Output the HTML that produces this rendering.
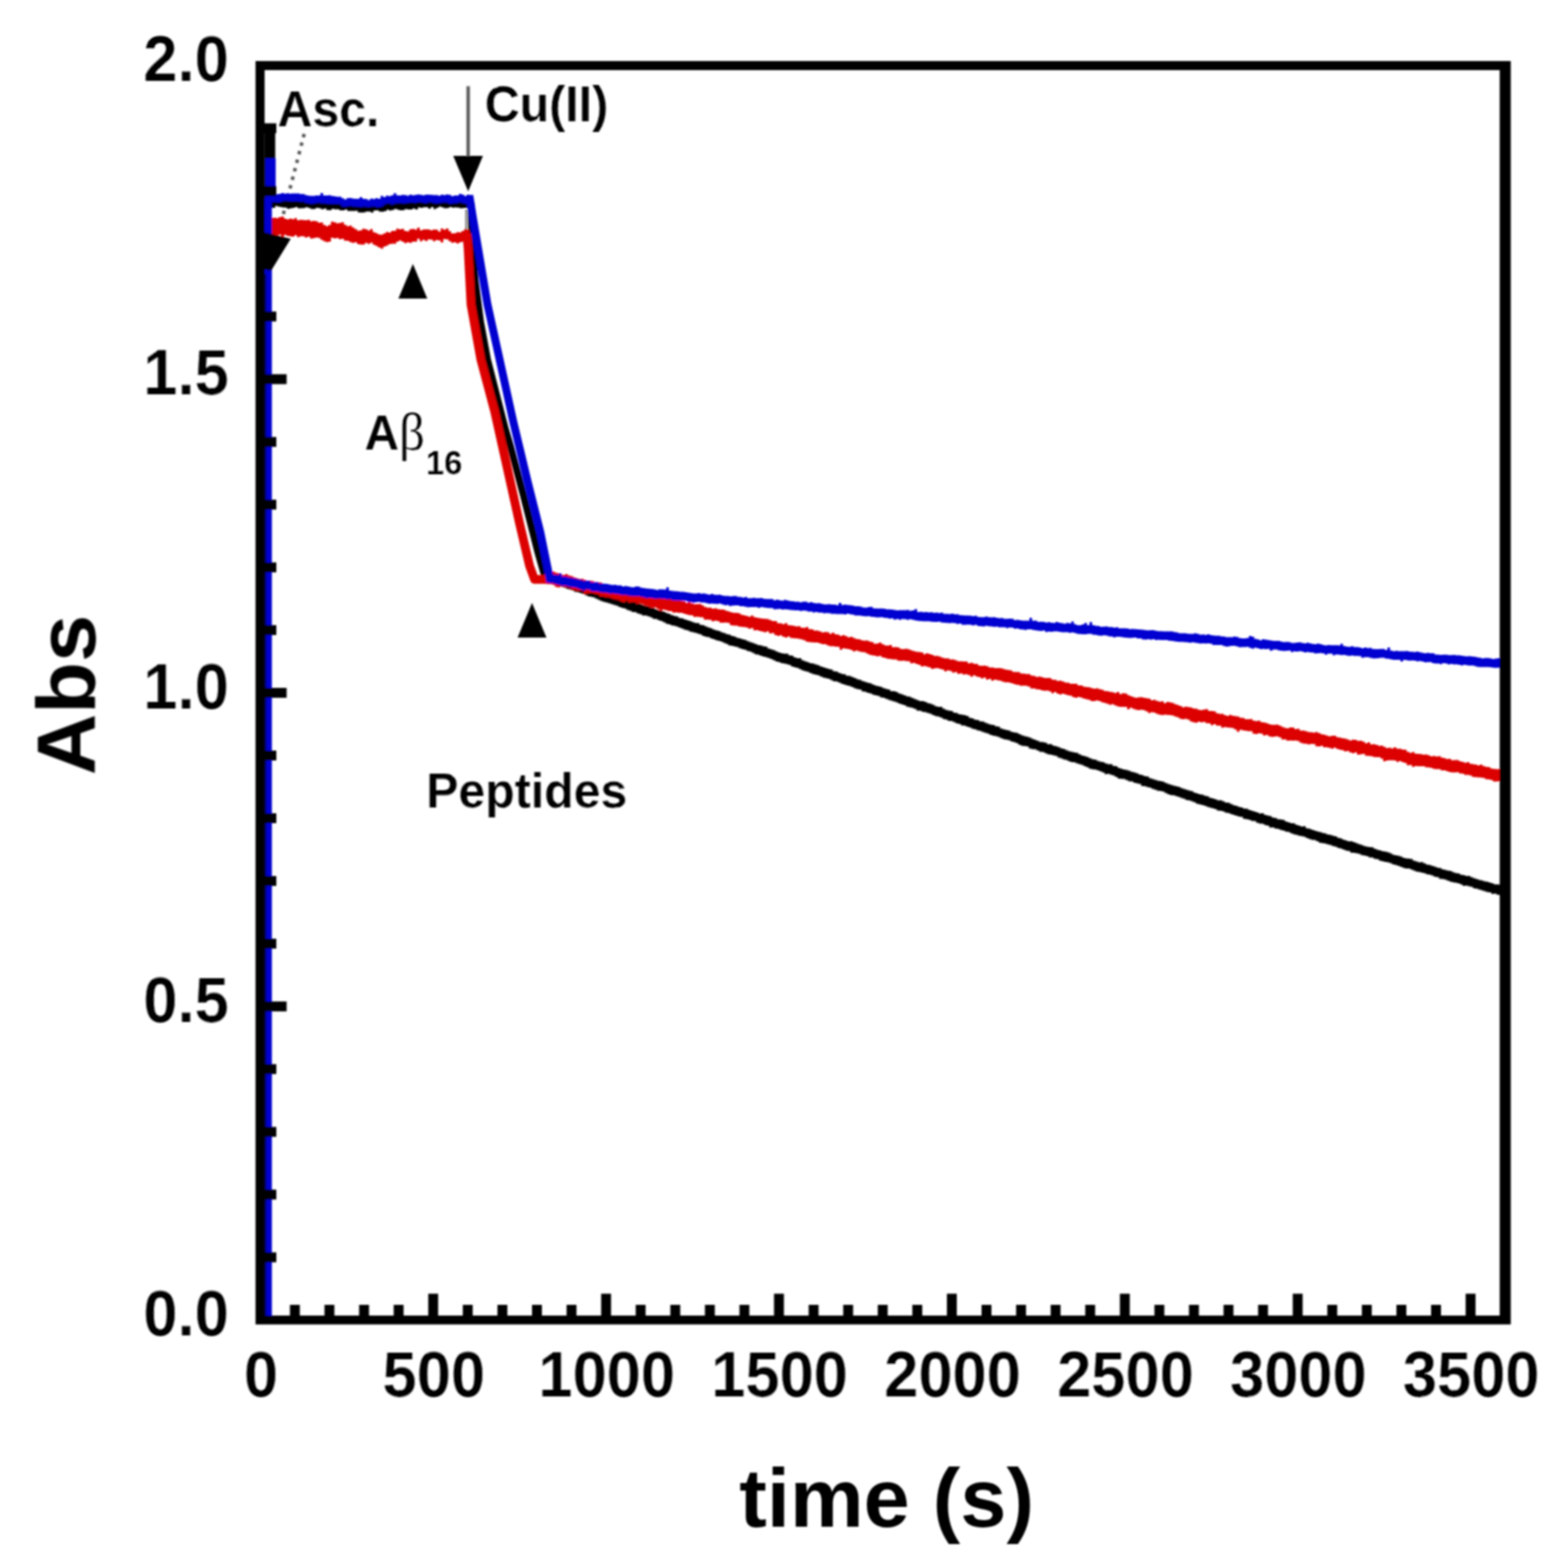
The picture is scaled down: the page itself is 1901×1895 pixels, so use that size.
<!DOCTYPE html>
<html lang="en">
<head>
<meta charset="utf-8">
<title>Abs vs time (s)</title>
<style>
  html, body { margin: 0; padding: 0; background: #ffffff; }
  body { width: 1901px; height: 1895px; overflow: hidden; }
  svg { display: block; }
  text { font-family: "Liberation Sans", sans-serif; font-weight: bold; fill: #000;
         stroke: #ffffff; stroke-width: 0; stroke-linejoin: round; paint-order: fill stroke; }
  .tick { font-size: 78px; stroke-width: 0.15px; }
  .axis { font-size: 101px; }
  .ann { font-size: 60px; stroke-width: 0.12px; }
  .beta { font-family: "Liberation Serif", "DejaVu Serif", serif; font-weight: normal; }
  .c { fill: none; stroke-linejoin: round; stroke-linecap: butt; }
  .k { stroke: #000000; } .kf { fill: #000000; }
  .r { stroke: #dc0000; } .rf { fill: #dc0000; }
  .b { stroke: #0000d0; } .bf { fill: #0000d0; }
</style>
</head>
<body>
<svg width="1901" height="1895" viewBox="0 0 1901 1895">
  <defs>
    <filter id="soft" x="0" y="0" width="1901" height="1895" filterUnits="userSpaceOnUse">
      <feGaussianBlur stdDeviation="1.2"/>
    </filter>
  </defs>
  <rect x="0" y="0" width="1901" height="1895" fill="#ffffff"/>
  <g id="chart" filter="url(#soft)">

  <!-- annotation leader lines (under curves) -->
  <line x1="368.8" y1="162.4" x2="333.4" y2="298.4" stroke="#555555" stroke-width="4.2" stroke-dasharray="4.2 6.48"/>
  <line x1="567.6" y1="104.5" x2="567.6" y2="195" stroke="#5c5c5c" stroke-width="4.2"/>
  <line x1="565.2" y1="254" x2="565.2" y2="282" stroke="#8a8a8a" stroke-width="2.6"/>

  <!-- black trace -->
  <g id="trace-black">
    <path class="c k" d="M323.0,1600.0 L324.0,250.0" stroke-width="9"/>
    <path class="c k" d="M327.2,252.0 L327.2,158.0" stroke-width="13"/>
    <path class="kf" d="M326.0,241.8V241.8H329.2V240.0H332.3V240.0H335.5V239.4H338.7V241.1H341.8V241.3H345.0V241.8H348.2V242.0H351.3V241.5H354.5V241.7H357.7V241.7H360.8V242.6H364.0V242.2H367.2V241.8H370.4V242.0H373.5V242.7H376.7V243.4H379.9V242.8H383.0V242.1H386.2V243.2H389.4V243.1H392.5V243.7H395.7V243.2H398.9V244.1H402.0V243.7H405.2V244.7H408.4V244.7H411.5V243.1H414.7V243.0H417.9V245.3H421.0V243.9H424.2V244.1H427.4V244.4H430.5V245.9H433.7V246.9H436.9V247.0H440.0V247.9H443.2V247.5H446.4V246.6H449.6V247.4H452.7V244.8H455.9V245.8H459.1V246.0H462.2V244.8H465.4V244.7H468.6V245.0H471.7V244.9H474.9V244.3H478.1V242.2H481.2V244.0H484.4V244.5H487.6V244.8H490.7V244.0H493.9V243.3H497.1V243.6H500.2V242.6H503.4V242.6H506.6V242.6H509.7V242.5H512.9V242.0H516.1V241.0H519.2V241.6H522.4V241.4H525.6V242.7H528.8V241.4H531.9V240.8H535.1V242.0H538.3V242.0H541.4V240.9H544.6V241.6H547.8V241.5H550.9V241.8H554.1V241.9H557.3V241.9H560.4V241.9H563.6V241.9H566.8V241.5H569.9V241.1H570.0V250.8V250.8H569.9V251.6H566.8V251.9H563.6V252.3H560.4V252.5H557.3V251.8H554.1V251.5H550.9V251.8H547.8V251.1H544.6V252.3H541.4V252.4H538.3V251.5H535.1V250.5H531.9V252.0H528.8V253.5H525.6V250.9H522.4V252.9H519.2V251.3H516.1V251.3H512.9V252.0H509.7V251.5H506.6V254.0H503.4V252.8H500.2V254.0H497.1V254.1H493.9V253.6H490.7V254.8H487.6V255.0H484.4V254.3H481.2V253.3H478.1V254.4H474.9V255.2H471.7V254.2H468.6V255.9H465.4V256.7H462.2V256.4H459.1V255.1H455.9V255.2H452.7V257.7H449.6V256.4H446.4V256.4H443.2V257.5H440.0V257.8H436.9V257.5H433.7V255.5H430.5V255.7H427.4V255.7H424.2V255.8H421.0V254.1H417.9V255.0H414.7V254.9H411.5V253.7H408.4V253.7H405.2V253.3H402.0V254.8H398.9V254.7H395.7V252.7H392.5V253.7H389.4V252.6H386.2V252.1H383.0V253.3H379.9V253.5H376.7V252.2H373.5V251.2H370.4V252.3H367.2V252.5H364.0V252.5H360.8V251.0H357.7V252.1H354.5V252.5H351.3V253.2H348.2V251.7H345.0V251.4H341.8V251.0H338.7V250.2H335.5V249.6H332.3V251.4H329.2V252.3H326.0Z"/>
    <path class="c k" d="M571.0,246.0 L572.0,290.0 L576.0,340.0 L582.5,390.0 L591.0,436.0 L612.5,520.0 L618.5,540.0 L634.5,600.0 L652.0,669.0 L662.0,704.0" stroke-width="8.5"/>
    <path class="kf" d="M658.0,695.1V695.1H661.2V695.3H664.3V695.1H667.5V695.4H670.7V696.9H673.8V697.8H677.0V698.5H680.2V699.4H683.3V700.7H686.5V701.1H689.7V703.0H692.8V703.8H696.0V705.0H699.2V706.0H702.4V707.0H705.5V708.1H708.7V709.5H711.9V710.4H715.0V711.8H718.2V712.5H721.4V713.9H724.5V714.5H727.7V715.8H730.9V717.4H734.0V718.3H737.2V719.6H740.4V720.4H743.5V721.0H746.7V721.6H749.9V723.4H753.0V724.4H756.2V724.8H759.4V726.7H762.5V728.2H765.7V729.3H768.9V729.8H772.0V731.1H775.2V732.3H778.4V733.6H781.6V734.6H784.7V735.0H787.9V736.5H791.1V737.2H794.2V739.0H797.4V740.0H800.6V740.5H803.7V741.7H806.9V743.2H810.1V744.2H813.2V745.8H816.4V746.8H819.6V747.6H822.7V749.3H825.9V749.7H829.1V750.9H832.2V752.0H835.4V753.0H838.6V754.3H841.7V755.3H844.9V755.5H848.1V757.5H851.2V758.1H854.4V759.4H857.6V760.8H860.8V761.7H863.9V763.2H867.1V764.2H870.3V765.1H873.4V766.4H876.6V767.5H879.8V768.7H882.9V769.5H886.1V771.1H889.3V771.8H892.4V773.2H895.6V773.9H898.8V775.1H901.9V775.8H905.1V777.3H908.3V778.4H911.4V779.5H914.6V780.8H917.8V782.0H920.9V782.4H924.1V783.5H927.3V783.9H930.4V786.2H933.6V787.3H936.8V788.3H940.0V789.7H943.1V791.0H946.3V792.0H949.5V792.6H952.6V792.5H955.8V794.5H959.0V795.0H962.1V797.0H965.3V798.1H968.5V798.0H971.6V800.5H974.8V801.8H978.0V802.7H981.1V804.0H984.3V804.5H987.5V805.6H990.6V806.5H993.8V808.1H997.0V809.1H1000.1V809.9H1003.3V811.1H1006.5V811.8H1009.6V813.7H1012.8V814.2H1016.0V815.7H1019.2V816.9H1022.3V817.6H1025.5V819.2H1028.7V819.5H1031.8V820.7H1035.0V822.1H1038.2V823.6H1041.3V824.3H1044.5V825.7H1047.7V826.8H1050.8V827.7H1054.0V828.5H1057.2V829.9H1060.3V831.2H1063.5V832.0H1066.7V832.8H1069.8V834.3H1073.0V835.2H1076.2V836.0H1079.3V837.9H1082.5V838.0H1085.7V838.9H1088.8V840.8H1092.0V841.7H1095.2V843.1H1098.4V844.3H1101.5V844.8H1104.7V846.3H1107.9V847.5H1111.0V848.8H1114.2V850.1H1117.4V850.1H1120.5V851.0H1123.7V852.5H1126.9V853.3H1130.0V854.6H1133.2V856.2H1136.4V857.1H1139.5V857.0H1142.7V859.2H1145.9V860.7H1149.0V861.4H1152.2V862.0H1155.4V863.9H1158.5V864.5H1161.7V866.0H1164.9V866.6H1168.0V867.1H1171.2V868.1H1174.4V870.2H1177.6V871.1H1180.7V872.5H1183.9V873.1H1187.1V874.5H1190.2V874.8H1193.4V876.2H1196.6V877.4H1199.7V878.6H1202.9V878.9H1206.1V880.5H1209.2V881.1H1212.4V883.2H1215.6V884.3H1218.7V885.0H1221.9V885.7H1225.1V887.2H1228.2V888.0H1231.4V888.6H1234.6V890.1H1237.7V891.6H1240.9V892.4H1244.1V893.2H1247.2V894.2H1250.4V895.7H1253.6V897.0H1256.8V898.2H1259.9V899.4H1263.1V899.8H1266.3V900.6H1269.4V902.2H1272.6V902.2H1275.8V904.1H1278.9V904.7H1282.1V905.7H1285.3V907.3H1288.4V908.0H1291.6V909.5H1294.8V910.8H1297.9V911.4H1301.1V912.2H1304.3V912.8H1307.4V914.5H1310.6V915.9H1313.8V916.8H1316.9V917.8H1320.1V919.3H1323.3V920.5H1326.4V921.0H1329.6V922.4H1332.8V923.5H1336.0V924.0H1339.1V925.6H1342.3V926.4H1345.5V926.4H1348.6V928.4H1351.8V928.9H1355.0V931.1H1358.1V932.1H1361.3V932.9H1364.5V933.4H1367.6V934.6H1370.8V935.8H1374.0V936.6H1377.1V937.6H1380.3V938.9H1383.5V939.8H1386.6V940.9H1389.8V941.6H1393.0V943.4H1396.1V944.4H1399.3V945.6H1402.5V946.5H1405.6V947.0H1408.8V947.7H1412.0V949.3H1415.2V950.6H1418.3V951.5H1421.5V952.5H1424.7V953.3H1427.8V954.1H1431.0V955.5H1434.2V956.6H1437.3V957.4H1440.5V958.5H1443.7V959.3H1446.8V960.9H1450.0V962.1H1453.2V963.1H1456.3V963.6H1459.5V964.7H1462.7V965.5H1465.8V967.2H1469.0V968.0H1472.2V969.1H1475.3V970.2H1478.5V970.3H1481.7V971.6H1484.8V972.9H1488.0V973.3H1491.2V974.8H1494.4V976.3H1497.5V977.1H1500.7V978.3H1503.9V979.0H1507.0V980.2H1510.2V980.6H1513.4V982.1H1516.5V983.1H1519.7V984.0H1522.9V985.1H1526.0V986.3H1529.2V985.9H1532.4V987.9H1535.5V988.7H1538.7V989.4H1541.9V991.3H1545.0V991.8H1548.2V993.3H1551.4V993.6H1554.5V994.1H1557.7V996.0H1560.9V997.0H1564.0V998.0H1567.2V998.2H1570.4V999.9H1573.6V1001.1H1576.7V1002.0H1579.9V1001.7H1583.1V1004.2H1586.2V1004.8H1589.4V1005.9H1592.6V1007.0H1595.7V1007.9H1598.9V1008.7H1602.1V1009.8H1605.2V1010.4H1608.4V1011.7H1611.6V1012.2H1614.7V1013.2H1617.9V1013.9H1621.1V1015.7H1624.2V1016.5H1627.4V1018.1H1630.6V1018.9H1633.7V1020.1H1636.9V1020.0H1640.1V1021.1H1643.2V1022.2H1646.4V1023.4H1649.6V1024.6H1652.8V1025.7H1655.9V1026.4H1659.1V1027.0H1662.3V1027.2H1665.4V1028.9H1668.6V1030.2H1671.8V1031.0H1674.9V1032.1H1678.1V1032.5H1681.3V1033.2H1684.4V1034.6H1687.6V1036.2H1690.8V1037.0H1693.9V1037.6H1697.1V1038.4H1700.3V1040.0H1703.4V1040.8H1706.6V1041.0H1709.8V1041.6H1712.9V1043.4H1716.1V1044.6H1719.3V1045.6H1722.4V1045.3H1725.6V1046.7H1728.8V1048.2H1732.0V1048.8H1735.1V1049.8H1738.3V1050.7H1741.5V1052.0H1744.6V1052.6H1747.8V1053.9H1751.0V1054.7H1754.1V1055.5H1757.3V1055.9H1760.5V1057.4H1763.6V1058.5H1766.8V1059.0H1770.0V1060.4H1773.1V1060.9H1776.3V1061.9H1779.5V1062.0H1782.6V1063.4H1785.8V1064.8H1789.0V1065.7H1792.1V1066.8H1795.3V1067.4H1798.5V1068.4H1801.6V1068.9H1804.8V1070.0H1808.0V1071.1H1811.2V1072.2H1814.3V1072.3H1817.5V1072.7H1819.5V1085.2V1085.2H1817.5V1084.7H1814.3V1083.6H1811.2V1083.7H1808.0V1082.0H1804.8V1081.5H1801.6V1080.6H1798.5V1079.4H1795.3V1078.5H1792.1V1077.6H1789.0V1077.1H1785.8V1075.2H1782.6V1074.6H1779.5V1073.8H1776.3V1074.1H1773.1V1072.3H1770.0V1071.1H1766.8V1070.3H1763.6V1069.7H1760.5V1068.9H1757.3V1067.8H1754.1V1066.6H1751.0V1065.8H1747.8V1065.6H1744.6V1063.6H1741.5V1062.9H1738.3V1061.6H1735.1V1060.6H1732.0V1060.1H1728.8V1058.7H1725.6V1057.9H1722.4V1057.3H1719.3V1056.7H1716.1V1055.6H1712.9V1054.3H1709.8V1053.1H1706.6V1053.0H1703.4V1052.2H1700.3V1050.9H1697.1V1049.8H1693.9V1048.8H1690.8V1048.1H1687.6V1046.5H1684.4V1045.5H1681.3V1044.9H1678.1V1044.2H1674.9V1043.4H1671.8V1041.8H1668.6V1041.2H1665.4V1039.8H1662.3V1039.4H1659.1V1038.0H1655.9V1037.3H1652.8V1036.7H1649.6V1035.3H1646.4V1034.5H1643.2V1033.9H1640.1V1033.7H1636.9V1031.7H1633.7V1031.2H1630.6V1030.0H1627.4V1028.8H1624.2V1027.9H1621.1V1026.6H1617.9V1025.8H1614.7V1024.4H1611.6V1023.8H1608.4V1022.8H1605.2V1022.2H1602.1V1021.7H1598.9V1020.1H1595.7V1018.5H1592.6V1018.2H1589.4V1017.2H1586.2V1016.1H1583.1V1014.4H1579.9V1013.7H1576.7V1013.3H1573.6V1012.2H1570.4V1011.4H1567.2V1010.2H1564.0V1008.8H1560.9V1008.3H1557.7V1006.9H1554.5V1006.3H1551.4V1004.9H1548.2V1004.4H1545.0V1003.3H1541.9V1003.2H1538.7V1001.0H1535.5V1000.2H1532.4V998.7H1529.2V998.5H1526.0V997.4H1522.9V995.6H1519.7V995.2H1516.5V993.9H1513.4V993.2H1510.2V992.8H1507.0V990.6H1503.9V989.9H1500.7V989.0H1497.5V988.0H1494.4V987.1H1491.2V985.7H1488.0V985.3H1484.8V983.7H1481.7V983.0H1478.5V982.8H1475.3V981.0H1472.2V979.9H1469.0V979.2H1465.8V978.3H1462.7V977.1H1459.5V975.9H1456.3V975.3H1453.2V974.6H1450.0V972.7H1446.8V971.6H1443.7V970.4H1440.5V970.1H1437.3V968.5H1434.2V967.6H1431.0V966.3H1427.8V965.2H1424.7V964.3H1421.5V964.0H1418.3V963.0H1415.2V961.6H1412.0V959.8H1408.8V958.9H1405.6V958.7H1402.5V957.4H1399.3V956.5H1396.1V955.1H1393.0V954.2H1389.8V953.3H1386.6V953.0H1383.5V950.5H1380.3V949.8H1377.1V949.0H1374.0V947.5H1370.8V947.2H1367.6V945.8H1364.5V944.6H1361.3V944.2H1358.1V943.9H1355.0V942.1H1351.8V940.3H1348.6V939.2H1345.5V938.3H1342.3V938.5H1339.1V936.4H1336.0V935.3H1332.8V934.1H1329.6V933.1H1326.4V932.8H1323.3V932.0H1320.1V930.3H1316.9V929.1H1313.8V927.6H1310.6V926.6H1307.4V925.6H1304.3V924.2H1301.1V924.0H1297.9V923.0H1294.8V921.5H1291.6V920.8H1288.4V919.4H1285.3V918.4H1282.1V916.6H1278.9V915.8H1275.8V915.0H1272.6V914.5H1269.4V913.3H1266.3V911.7H1263.1V911.4H1259.9V910.1H1256.8V908.6H1253.6V908.2H1250.4V907.6H1247.2V905.1H1244.1V904.4H1240.9V904.2H1237.7V903.0H1234.6V901.0H1231.4V899.8H1228.2V898.9H1225.1V897.6H1221.9V896.8H1218.7V896.2H1215.6V895.0H1212.4V893.6H1209.2V892.4H1206.1V892.1H1202.9V890.9H1199.7V889.5H1196.6V888.6H1193.4V887.5H1190.2V886.2H1187.1V885.5H1183.9V884.3H1180.7V883.6H1177.6V882.0H1174.4V880.9H1171.2V879.8H1168.0V879.4H1164.9V877.8H1161.7V876.9H1158.5V875.6H1155.4V874.3H1152.2V874.0H1149.0V872.4H1145.9V871.7H1142.7V869.9H1139.5V868.8H1136.4V868.2H1133.2V867.1H1130.0V865.5H1126.9V864.4H1123.7V863.4H1120.5V863.0H1117.4V861.7H1114.2V861.5H1111.0V859.6H1107.9V858.2H1104.7V857.5H1101.5V856.8H1098.4V854.9H1095.2V854.1H1092.0V852.9H1088.8V851.6H1085.7V850.5H1082.5V849.6H1079.3V848.5H1076.2V847.3H1073.0V846.0H1069.8V845.4H1066.7V843.8H1063.5V843.0H1060.3V842.3H1057.2V840.7H1054.0V839.9H1050.8V838.7H1047.7V838.2H1044.5V836.1H1041.3V835.6H1038.2V834.5H1035.0V833.0H1031.8V831.8H1028.7V831.0H1025.5V830.1H1022.3V829.0H1019.2V827.5H1016.0V826.3H1012.8V825.9H1009.6V824.5H1006.5V823.0H1003.3V822.2H1000.1V821.6H997.0V820.3H993.8V818.8H990.6V818.0H987.5V817.2H984.3V815.9H981.1V814.5H978.0V813.7H974.8V812.7H971.6V811.2H968.5V809.7H965.3V808.9H962.1V808.0H959.0V806.2H955.8V805.3H952.6V804.6H949.5V803.9H946.3V802.8H943.1V801.9H940.0V800.5H936.8V798.9H933.6V797.8H930.4V796.8H927.3V796.1H924.1V795.0H920.9V793.8H917.8V793.2H914.6V791.4H911.4V789.9H908.3V789.3H905.1V787.8H901.9V787.1H898.8V786.1H895.6V784.6H892.4V783.8H889.3V782.9H886.1V782.4H882.9V780.7H879.8V779.6H876.6V778.1H873.4V776.9H870.3V776.3H867.1V775.0H863.9V774.0H860.8V772.6H857.6V771.9H854.4V770.9H851.2V769.2H848.1V768.2H844.9V767.3H841.7V766.6H838.6V765.7H835.4V764.2H832.2V763.4H829.1V762.3H825.9V761.0H822.7V759.7H819.6V758.7H816.4V758.2H813.2V757.1H810.1V756.2H806.9V754.5H803.7V752.9H800.6V752.1H797.4V750.5H794.2V750.2H791.1V748.5H787.9V747.2H784.7V746.3H781.6V746.3H778.4V744.7H775.2V743.7H772.0V742.2H768.9V742.0H765.7V740.5H762.5V739.5H759.4V737.8H756.2V737.0H753.0V736.1H749.9V734.5H746.7V733.5H743.5V732.5H740.4V731.4H737.2V730.4H734.0V729.8H730.9V728.7H727.7V727.2H724.5V725.7H721.4V724.2H718.2V723.6H715.0V723.0H711.9V721.4H708.7V720.1H705.5V719.0H702.4V718.0H699.2V717.5H696.0V715.8H692.8V714.8H689.7V714.0H686.5V712.4H683.3V711.6H680.2V710.4H677.0V709.7H673.8V709.3H670.7V707.1H667.5V707.1H664.3V706.8H661.2V706.6H658.0Z"/>
  </g>
  <!-- red trace -->
  <g id="trace-red">
    <path class="c r" d="M325.0,1600.0 L325.0,270.0" stroke-width="8"/>
    <path class="rf" d="M322.0,264.6V264.6H325.2V264.4H328.3V264.3H331.5V264.1H334.7V264.5H337.8V263.2H341.0V262.6H344.2V265.1H347.3V266.1H350.5V265.0H353.7V265.7H356.8V264.5H360.0V267.0H363.2V266.4H366.4V266.7H369.5V267.0H372.7V266.4H375.9V268.2H379.0V267.8H382.2V268.2H385.4V270.0H388.5V269.8H391.7V272.8H394.9V274.2H398.0V272.8H401.2V268.7H404.4V269.6H407.5V270.7H410.7V270.2H413.9V269.6H417.0V272.4H420.2V274.2H423.4V273.6H426.5V275.7H429.7V277.8H432.9V279.7H436.0V279.3H439.2V277.2H442.4V278.1H445.6V279.5H448.7V277.7H451.9V281.5H455.1V282.7H458.2V284.3H461.4V284.5H464.6V282.9H467.7V281.2H470.9V282.0H474.1V280.1H477.2V279.7H480.4V277.2H483.6V277.9H486.7V277.5H489.9V280.1H493.1V280.5H496.2V277.9H499.4V277.6H502.6V278.4H505.7V276.1H508.9V279.3H512.1V278.3H515.2V278.0H518.4V278.3H521.6V279.2H524.8V278.3H527.9V278.6H531.1V280.7H534.3V277.0H537.4V278.5H540.6V277.0H543.8V280.3H546.9V283.1H550.1V282.7H553.3V281.5H556.4V281.7H559.6V280.1H562.8V277.4H565.9V278.4H569.0V289.9V289.9H565.9V289.3H562.8V293.0H559.6V293.7H556.4V295.2H553.3V293.7H550.1V294.3H546.9V292.4H543.8V290.2H540.6V289.7H537.4V293.9H534.3V291.5H531.1V290.9H527.9V292.5H524.8V290.5H521.6V290.2H518.4V292.3H515.2V290.7H512.1V292.4H508.9V289.5H505.7V292.9H502.6V293.1H499.4V294.4H496.2V293.7H493.1V294.7H489.9V293.0H486.7V291.5H483.6V293.1H480.4V295.4H477.2V295.5H474.1V296.1H470.9V297.7H467.7V299.1H464.6V301.4H461.4V300.1H458.2V298.3H455.1V296.7H451.9V294.2H448.7V295.7H445.6V294.4H442.4V296.6H439.2V296.5H436.0V296.1H432.9V293.8H429.7V294.5H426.5V293.6H423.4V292.1H420.2V291.7H417.0V289.4H413.9V290.0H410.7V288.6H407.5V289.1H404.4V288.2H401.2V292.9H398.0V293.5H394.9V292.6H391.7V290.8H388.5V288.4H385.4V287.9H382.2V288.7H379.0V289.2H375.9V287.0H372.7V288.1H369.5V286.5H366.4V286.5H363.2V287.5H360.0V285.3H356.8V287.0H353.7V286.6H350.5V286.1H347.3V284.8H344.2V287.6H341.0V284.4H337.8V285.4H334.7V285.5H331.5V286.3H328.3V285.1H325.2V285.7H322.0Z"/>
    <path class="c r" d="M566.0,283.0 L567.5,301.0 L571.0,369.0 L583.0,436.0 L600.0,500.0 L615.0,567.5 L630.0,635.0 L642.0,686.0 L648.0,702.5 L668.0,702.5" stroke-width="10.6"/>
    <path class="rf" d="M660.0,693.1V693.1H663.2V691.5H666.3V693.1H669.5V693.1H672.7V694.5H675.8V695.0H679.0V696.9H682.2V696.9H685.3V696.1H688.5V697.7H691.7V698.4H694.8V700.1H698.0V701.1H701.2V701.9H704.4V701.8H707.5V703.0H710.7V704.1H713.9V703.9H717.0V704.5H720.2V705.8H723.4V706.0H726.5V706.3H729.7V708.8H732.9V709.4H736.0V709.3H739.2V710.1H742.4V711.2H745.5V711.0H748.7V711.2H751.9V711.5H755.0V713.5H758.2V713.8H761.4V714.8H764.5V715.6H767.7V715.7H770.9V717.5H774.0V717.0H777.2V718.1H780.4V719.8H783.6V719.7H786.7V721.0H789.9V722.2H793.1V722.0H796.2V722.6H799.4V724.2H802.6V723.2H805.7V724.2H808.9V725.0H812.1V725.8H815.2V727.3H818.4V728.1H821.6V727.6H824.7V728.6H827.9V728.9H831.1V730.9H834.2V729.8H837.4V731.6H840.6V732.6H843.7V732.5H846.9V732.2H850.1V733.8H853.2V735.8H856.4V736.8H859.6V736.7H862.8V737.9H865.9V737.4H869.1V738.5H872.3V738.9H875.4V739.0H878.6V740.2H881.8V741.3H884.9V742.2H888.1V743.1H891.3V743.0H894.4V743.5H897.6V745.2H900.8V745.9H903.9V746.8H907.1V747.7H910.3V746.3H913.4V748.3H916.6V749.1H919.8V749.5H922.9V750.1H926.1V750.2H929.3V750.6H932.4V751.8H935.6V753.1H938.8V753.0H942.0V755.4H945.1V755.8H948.3V756.7H951.5V755.4H954.6V757.9H957.8V758.3H961.0V758.7H964.1V759.5H967.3V759.3H970.5V760.9H973.6V761.3H976.8V760.2H980.0V762.7H983.1V763.0H986.3V764.5H989.5V764.6H992.6V765.5H995.8V766.8H999.0V766.3H1002.1V766.5H1005.3V768.5H1008.5V767.1H1011.6V769.0H1014.8V769.6H1018.0V770.9H1021.2V769.9H1024.3V771.2H1027.5V772.8H1030.7V771.9H1033.8V773.4H1037.0V774.7H1040.2V774.9H1043.3V776.2H1046.5V776.7H1049.7V776.5H1052.8V777.8H1056.0V778.6H1059.2V780.4H1062.3V780.3H1065.5V778.9H1068.7V781.1H1071.8V782.5H1075.0V782.7H1078.2V782.1H1081.3V784.7H1084.5V784.4H1087.7V784.9H1090.8V786.7H1094.0V787.1H1097.2V786.6H1100.4V787.3H1103.5V788.5H1106.7V789.4H1109.9V790.3H1113.0V790.6H1116.2V791.1H1119.4V793.2H1122.5V792.0H1125.7V793.1H1128.9V793.9H1132.0V795.2H1135.2V795.2H1138.4V796.3H1141.5V797.6H1144.7V798.3H1147.9V798.3H1151.0V799.5H1154.2V799.6H1157.4V800.5H1160.5V801.8H1163.7V801.7H1166.9V802.0H1170.0V802.0H1173.2V804.3H1176.4V803.6H1179.6V804.7H1182.7V805.1H1185.9V806.9H1189.1V807.2H1192.2V807.1H1195.4V807.8H1198.6V809.3H1201.7V809.3H1204.9V810.0H1208.1V810.1H1211.2V810.0H1214.4V810.7H1217.6V811.7H1220.7V812.3H1223.9V812.7H1227.1V814.4H1230.2V814.7H1233.4V814.7H1236.6V816.4H1239.7V816.7H1242.9V817.3H1246.1V817.2H1249.2V818.9H1252.4V819.4H1255.6V820.7H1258.8V820.3H1261.9V821.1H1265.1V822.0H1268.3V822.0H1271.4V822.0H1274.6V824.0H1277.8V824.2H1280.9V825.5H1284.1V825.2H1287.3V826.3H1290.4V827.6H1293.6V827.8H1296.8V828.9H1299.9V829.1H1303.1V828.9H1306.3V831.0H1309.4V831.0H1312.6V832.6H1315.8V832.9H1318.9V833.2H1322.1V834.2H1325.3V834.9H1328.4V834.5H1331.6V835.4H1334.8V836.2H1338.0V837.8H1341.1V838.0H1344.3V838.7H1347.5V839.2H1350.6V840.2H1353.8V838.9H1357.0V841.4H1360.1V840.4H1363.3V840.8H1366.5V842.7H1369.6V844.0H1372.8V845.2H1376.0V846.0H1379.1V845.6H1382.3V845.2H1385.5V845.9H1388.6V846.4H1391.8V847.0H1395.0V848.9H1398.1V848.4H1401.3V849.8H1404.5V850.7H1407.6V850.3H1410.8V852.5H1414.0V850.9H1417.2V851.6H1420.3V852.3H1423.5V853.8H1426.7V854.8H1429.8V856.0H1433.0V857.4H1436.2V856.8H1439.3V857.2H1442.5V857.7H1445.7V859.1H1448.8V859.3H1452.0V860.5H1455.2V861.1H1458.3V860.2H1461.5V859.8H1464.7V862.1H1467.8V862.0H1471.0V862.6H1474.2V864.7H1477.3V865.4H1480.5V865.4H1483.7V866.9H1486.8V868.0H1490.0V866.8H1493.2V867.7H1496.4V868.3H1499.5V868.7H1502.7V870.3H1505.9V870.6H1509.0V872.0H1512.2V871.9H1515.4V871.8H1518.5V873.8H1521.7V874.3H1524.9V873.8H1528.0V875.4H1531.2V876.0H1534.4V876.8H1537.5V878.0H1540.7V878.8H1543.9V878.7H1547.0V878.5H1550.2V879.7H1553.4V881.3H1556.5V882.6H1559.7V883.0H1562.9V882.0H1566.0V881.9H1569.2V883.9H1572.4V883.4H1575.6V885.7H1578.7V885.7H1581.9V886.4H1585.1V887.4H1588.2V887.8H1591.4V888.3H1594.6V887.4H1597.7V888.7H1600.9V890.2H1604.1V890.7H1607.2V891.7H1610.4V892.8H1613.6V892.0H1616.7V891.9H1619.9V893.8H1623.1V894.3H1626.2V895.1H1629.4V895.5H1632.6V896.4H1635.7V897.7H1638.9V896.8H1642.1V897.1H1645.2V898.3H1648.4V898.0H1651.6V899.3H1654.8V901.2H1657.9V900.1H1661.1V902.6H1664.3V902.2H1667.4V902.9H1670.6V904.2H1673.8V904.0H1676.9V905.6H1680.1V907.0H1683.3V906.6H1686.4V907.4H1689.6V905.9H1692.8V907.7H1695.9V907.8H1699.1V908.7H1702.3V908.9H1705.4V911.4H1708.6V912.7H1711.8V911.8H1714.9V913.8H1718.1V914.1H1721.3V914.3H1724.4V914.9H1727.6V914.7H1730.8V915.8H1734.0V917.0H1737.1V916.5H1740.3V917.2H1743.5V916.8H1746.6V918.6H1749.8V919.3H1753.0V920.3H1756.1V919.9H1759.3V921.8H1762.5V921.5H1765.6V921.4H1768.8V923.0H1772.0V923.7H1775.1V924.8H1778.3V924.0H1781.5V926.0H1784.6V926.6H1787.8V927.0H1791.0V927.9H1794.1V926.9H1797.3V928.8H1800.5V929.8H1803.6V930.1H1806.8V931.7H1810.0V932.3H1813.2V932.6H1816.3V932.6H1819.5V932.1H1819.5V947.4V947.4H1819.5V947.1H1816.3V947.6H1813.2V947.4H1810.0V945.7H1806.8V944.9H1803.6V944.8H1800.5V943.2H1797.3V942.7H1794.1V942.4H1791.0V942.2H1787.8V942.1H1784.6V940.2H1781.5V939.4H1778.3V939.4H1775.1V938.1H1772.0V937.7H1768.8V936.2H1765.6V936.6H1762.5V936.4H1759.3V935.9H1756.1V935.1H1753.0V934.1H1749.8V934.0H1746.6V932.6H1743.5V932.4H1740.3V932.2H1737.1V931.0H1734.0V930.4H1730.8V930.3H1727.6V929.1H1724.4V929.1H1721.3V929.1H1718.1V928.7H1714.9V929.7H1711.8V927.6H1708.6V927.8H1705.4V925.1H1702.3V924.1H1699.1V922.7H1695.9V923.7H1692.8V922.0H1689.6V921.7H1686.4V921.7H1683.3V922.0H1680.1V923.0H1676.9V919.8H1673.8V918.0H1670.6V918.1H1667.4V917.7H1664.3V916.7H1661.1V916.6H1657.9V916.2H1654.8V914.1H1651.6V914.5H1648.4V915.1H1645.2V912.3H1642.1V913.2H1638.9V912.2H1635.7V910.6H1632.6V910.9H1629.4V909.4H1626.2V908.9H1623.1V908.1H1619.9V906.4H1616.7V907.7H1613.6V906.7H1610.4V906.0H1607.2V905.9H1604.1V904.3H1600.9V904.9H1597.7V904.7H1594.6V902.1H1591.4V902.1H1588.2V902.5H1585.1V901.7H1581.9V901.4H1578.7V900.5H1575.6V898.5H1572.4V897.8H1569.2V898.1H1566.0V897.7H1562.9V898.0H1559.7V896.5H1556.5V896.4H1553.4V893.9H1550.2V892.7H1547.0V893.1H1543.9V893.5H1540.7V892.7H1537.5V891.1H1534.4V891.8H1531.2V889.5H1528.0V888.9H1524.9V890.0H1521.7V889.6H1518.5V886.6H1515.4V886.4H1512.2V886.0H1509.0V885.4H1505.9V884.8H1502.7V887.2H1499.5V884.6H1496.4V882.7H1493.2V882.3H1490.0V882.1H1486.8V881.5H1483.7V882.2H1480.5V879.8H1477.3V879.8H1474.2V878.1H1471.0V879.2H1467.8V877.1H1464.7V876.7H1461.5V875.3H1458.3V875.8H1455.2V875.0H1452.0V876.3H1448.8V875.7H1445.7V874.8H1442.5V872.4H1439.3V871.4H1436.2V872.0H1433.0V871.4H1429.8V869.8H1426.7V868.7H1423.5V867.6H1420.3V866.9H1417.2V866.8H1414.0V866.6H1410.8V867.1H1407.6V866.6H1404.5V865.6H1401.3V863.9H1398.1V863.6H1395.0V864.4H1391.8V862.5H1388.6V861.0H1385.5V860.5H1382.3V860.9H1379.1V860.4H1376.0V859.5H1372.8V858.0H1369.6V859.9H1366.5V857.0H1363.3V857.0H1360.1V857.0H1357.0V856.6H1353.8V855.2H1350.6V853.8H1347.5V854.4H1344.3V853.2H1341.1V852.2H1338.0V851.6H1334.8V850.0H1331.6V849.3H1328.4V850.0H1325.3V849.9H1322.1V848.4H1318.9V847.7H1315.8V847.0H1312.6V845.7H1309.4V844.9H1306.3V846.1H1303.1V845.3H1299.9V843.5H1296.8V842.9H1293.6V842.0H1290.4V841.0H1287.3V842.1H1284.1V841.0H1280.9V839.1H1277.8V840.4H1274.6V838.3H1271.4V837.3H1268.3V837.4H1265.1V836.9H1261.9V835.9H1258.8V835.7H1255.6V834.7H1252.4V834.8H1249.2V832.6H1246.1V831.4H1242.9V831.3H1239.7V831.4H1236.6V830.4H1233.4V830.1H1230.2V828.9H1227.1V828.0H1223.9V827.2H1220.7V827.3H1217.6V826.6H1214.4V825.3H1211.2V824.8H1208.1V824.1H1204.9V825.2H1201.7V823.1H1198.6V823.9H1195.4V821.6H1192.2V822.6H1189.1V820.9H1185.9V820.3H1182.7V818.7H1179.6V820.4H1176.4V818.6H1173.2V817.5H1170.0V817.7H1166.9V816.4H1163.7V817.1H1160.5V814.8H1157.4V815.4H1154.2V813.6H1151.0V812.7H1147.9V814.1H1144.7V811.8H1141.5V811.0H1138.4V810.0H1135.2V810.2H1132.0V810.9H1128.9V809.2H1125.7V808.3H1122.5V807.4H1119.4V808.0H1116.2V805.9H1113.0V805.0H1109.9V803.7H1106.7V804.2H1103.5V801.8H1100.4V801.6H1097.2V801.0H1094.0V801.2H1090.8V801.0H1087.7V799.6H1084.5V799.4H1081.3V798.9H1078.2V798.8H1075.0V797.7H1071.8V796.9H1068.7V795.2H1065.5V795.8H1062.3V794.9H1059.2V794.6H1056.0V793.8H1052.8V792.3H1049.7V790.8H1046.5V790.4H1043.3V789.8H1040.2V788.8H1037.0V789.8H1033.8V787.9H1030.7V786.9H1027.5V786.5H1024.3V786.0H1021.2V787.7H1018.0V784.3H1014.8V783.9H1011.6V783.5H1008.5V783.5H1005.3V782.4H1002.1V780.9H999.0V781.0H995.8V780.1H992.6V779.0H989.5V778.9H986.3V778.7H983.1V778.6H980.0V777.9H976.8V776.2H973.6V775.3H970.5V774.4H967.3V773.9H964.1V773.8H961.0V773.4H957.8V771.8H954.6V772.9H951.5V772.1H948.3V770.2H945.1V770.9H942.0V769.9H938.8V767.6H935.6V767.9H932.4V765.6H929.3V766.4H926.1V765.8H922.9V764.9H919.8V764.0H916.6V764.3H913.4V761.4H910.3V762.3H907.1V760.8H903.9V760.2H900.8V760.1H897.6V759.4H894.4V758.6H891.3V758.4H888.1V758.0H884.9V755.3H881.8V754.7H878.6V755.0H875.4V754.9H872.3V753.0H869.1V752.4H865.9V753.2H862.8V751.6H859.6V751.2H856.4V751.3H853.2V748.6H850.1V748.3H846.9V747.7H843.7V748.0H840.6V745.9H837.4V745.8H834.2V745.0H831.1V743.9H827.9V742.9H824.7V742.9H821.6V742.4H818.4V742.8H815.2V741.0H812.1V740.7H808.9V739.7H805.7V738.9H802.6V740.8H799.4V738.4H796.2V736.5H793.1V736.7H789.9V736.4H786.7V734.7H783.6V734.3H780.4V732.4H777.2V731.6H774.0V732.2H770.9V730.3H767.7V730.0H764.5V730.7H761.4V728.4H758.2V730.2H755.0V729.2H751.9V727.7H748.7V726.8H745.5V726.4H742.4V724.9H739.2V724.1H736.0V723.9H732.9V723.1H729.7V723.1H726.5V720.7H723.4V720.2H720.2V718.9H717.0V718.9H713.9V719.4H710.7V719.9H707.5V716.6H704.4V716.2H701.2V716.4H698.0V715.2H694.8V714.8H691.7V712.8H688.5V711.8H685.3V711.4H682.2V710.8H679.0V712.2H675.8V711.4H672.7V709.1H669.5V708.3H666.3V708.2H663.2V707.5H660.0Z"/>
  </g>
  <!-- blue trace -->
  <g id="trace-blue">
    <path class="c b" d="M324.6,1600.0 L324.6,240.0" stroke-width="10"/>
    <path class="c b" d="M328.0,245.0 L328.0,192.0" stroke-width="12.5"/>
    <path class="bf" d="M322.0,233.5V233.5H325.2V234.8H328.3V234.8H331.5V234.5H334.7V235.4H337.8V235.0H341.0V234.1H344.2V234.7H347.3V234.5H350.5V234.7H353.7V234.4H356.8V234.5H360.0V234.5H363.2V235.3H366.4V235.3H369.5V236.5H372.7V237.2H375.9V237.5H379.0V237.5H382.2V237.0H385.4V237.1H388.5V234.0H391.7V237.1H394.9V236.9H398.0V236.7H401.2V237.5H404.4V238.1H407.5V238.4H410.7V238.5H413.9V240.3H417.0V241.7H420.2V240.3H423.4V240.0H426.5V240.7H429.7V241.0H432.9V241.1H436.0V238.9H439.2V241.1H442.4V241.2H445.6V242.4H448.7V240.7H451.9V241.3H455.1V240.3H458.2V240.9H461.4V237.4H464.6V239.1H467.7V237.2H470.9V237.7H474.1V236.7H477.2V234.2H480.4V236.7H483.6V237.1H486.7V236.2H489.9V236.5H493.1V237.3H496.2V236.0H499.4V236.7H502.6V236.3H505.7V235.7H508.9V236.3H512.1V236.7H515.2V235.9H518.4V236.0H521.6V236.2H524.8V236.5H527.9V236.6H531.1V237.3H534.3V236.1H537.4V236.4H540.6V235.8H543.8V236.2H546.9V237.7H550.1V237.0H553.3V237.1H556.4V235.1H559.6V236.1H562.8V237.8H565.9V236.1H569.1V236.5H572.0V245.3V245.3H569.1V246.0H565.9V246.9H562.8V246.4H559.6V245.1H556.4V246.0H553.3V246.4H550.1V246.7H546.9V247.0H543.8V245.7H540.6V245.4H537.4V245.7H534.3V246.6H531.1V246.6H527.9V246.4H524.8V245.6H521.6V245.0H518.4V246.5H515.2V246.0H512.1V245.2H508.9V244.9H505.7V246.1H502.6V245.8H499.4V245.5H496.2V246.3H493.1V246.5H489.9V246.7H486.7V246.0H483.6V246.4H480.4V246.7H477.2V247.9H474.1V246.8H470.9V246.7H467.7V248.1H464.6V250.6H461.4V251.3H458.2V251.3H455.1V250.0H451.9V250.4H448.7V251.3H445.6V250.7H442.4V250.5H439.2V251.1H436.0V250.8H432.9V250.4H429.7V250.4H426.5V249.6H423.4V250.0H420.2V250.8H417.0V250.4H413.9V247.8H410.7V247.2H407.5V247.3H404.4V247.6H401.2V246.9H398.0V246.9H394.9V246.6H391.7V246.8H388.5V245.8H385.4V246.1H382.2V246.8H379.0V247.3H375.9V246.5H372.7V245.9H369.5V244.6H366.4V244.7H363.2V244.0H360.0V243.9H356.8V244.0H353.7V244.1H350.5V243.8H347.3V243.6H344.2V244.0H341.0V245.0H337.8V245.6H334.7V244.1H331.5V245.0H328.3V243.7H325.2V243.7H322.0Z"/>
    <path class="c b" d="M569.0,237.0 L573.0,262.0 L591.0,369.0 L622.0,510.0 L640.0,585.0 L655.0,645.0 L667.0,704.0" stroke-width="9.6"/>
    <path class="bf" d="M662.0,694.7V694.7H665.2V695.6H668.3V696.5H671.5V696.8H674.7V697.2H677.8V695.3H681.0V698.9H684.2V699.0H687.3V700.1H690.5V700.4H693.7V701.0H696.8V701.7H700.0V702.5H703.2V703.2H706.4V704.2H709.5V704.0H712.7V704.2H715.9V705.9H719.0V706.1H722.2V705.8H725.4V707.4H728.5V707.6H731.7V707.8H734.9V707.9H738.0V708.8H741.2V709.2H744.4V709.0H747.5V709.7H750.7V709.8H753.9V711.1H757.0V710.6H760.2V710.9H763.4V711.7H766.5V712.1H769.7V711.1H772.9V711.3H776.0V712.5H779.2V713.1H782.4V713.5H785.6V713.7H788.7V714.0H791.9V714.6H795.1V715.3H798.2V714.5H801.4V714.6H804.6V714.8H807.7V712.0H810.9V716.0H814.1V716.5H817.2V716.7H820.4V717.1H823.6V717.5H826.7V717.4H829.9V717.9H833.1V718.6H836.2V718.9H839.4V719.6H842.6V719.4H845.7V718.9H848.9V719.7H852.1V719.6H855.2V720.3H858.4V721.0H861.6V719.9H864.8V721.1H867.9V721.3H871.1V720.9H874.3V721.9H877.4V722.6H880.6V722.6H883.8V723.1H886.9V722.7H890.1V722.4H893.3V723.5H896.4V723.7H899.6V724.4H902.8V723.8H905.9V725.3H909.1V725.3H912.3V724.8H915.4V725.2H918.6V725.3H921.8V725.0H924.9V726.0H928.1V726.3H931.3V726.3H934.4V726.2H937.6V727.8H940.8V727.1H944.0V727.8H947.1V728.2H950.3V727.3H953.5V728.1H956.6V728.7H959.8V728.9H963.0V729.4H966.1V729.4H969.3V730.2H972.5V729.5H975.6V729.5H978.8V730.7H982.0V730.1H985.1V731.1H988.3V731.5H991.5V731.3H994.6V732.1H997.8V732.7H1001.0V732.7H1004.1V732.6H1007.3V733.1H1010.5V733.0H1013.6V733.8H1016.8V731.1H1020.0V733.4H1023.2V733.0H1026.3V733.5H1029.5V733.8H1032.7V734.3H1035.8V735.1H1039.0V735.0H1042.2V735.6H1045.3V736.4H1048.5V736.8H1051.7V736.1H1054.8V735.8H1058.0V737.4H1061.2V737.8H1064.3V737.7H1067.5V737.8H1070.7V738.0H1073.8V738.7H1077.0V738.8H1080.2V739.0H1083.3V739.5H1086.5V739.9H1089.7V739.8H1092.8V739.7H1096.0V739.8H1099.2V739.4H1102.4V740.5H1105.5V740.1H1108.7V738.5H1111.9V741.9H1115.0V741.8H1118.2V742.3H1121.4V742.0H1124.5V742.6H1127.7V742.3H1130.9V743.0H1134.0V742.8H1137.2V743.3H1140.4V742.8H1143.5V744.2H1146.7V744.3H1149.9V744.5H1153.0V744.1H1156.2V744.8H1159.4V744.7H1162.5V745.7H1165.7V746.0H1168.9V746.3H1172.0V746.3H1175.2V746.6H1178.4V746.9H1181.6V746.5H1184.7V748.0H1187.9V748.2H1191.1V748.2H1194.2V747.6H1197.4V748.2H1200.6V748.6H1203.7V748.2H1206.9V749.1H1210.1V749.6H1213.2V749.2H1216.4V750.2H1219.6V750.2H1222.7V750.0H1225.9V750.3H1229.1V751.7H1232.2V751.6H1235.4V751.9H1238.6V752.6H1241.7V752.6H1244.9V752.6H1248.1V748.9H1251.2V752.6H1254.4V752.6H1257.6V753.9H1260.8V753.8H1263.9V754.0H1267.1V754.7H1270.3V754.2H1273.4V755.0H1276.6V755.2H1279.8V753.9H1282.9V755.1H1286.1V755.4H1289.3V756.3H1292.4V755.2H1295.6V755.8H1298.8V753.4H1301.9V756.8H1305.1V757.9H1308.3V757.9H1311.4V757.0H1314.6V755.3H1317.8V757.9H1320.9V754.3H1324.1V757.9H1327.3V758.7H1330.4V758.9H1333.6V760.1H1336.8V759.7H1340.0V759.6H1343.1V760.3H1346.3V760.3H1349.5V760.9H1352.6V760.6H1355.8V761.7H1359.0V761.7H1362.1V761.7H1365.3V762.1H1368.5V762.8H1371.6V762.4H1374.8V762.7H1378.0V763.1H1381.1V763.3H1384.3V763.4H1387.5V764.1H1390.6V764.3H1393.8V763.9H1397.0V764.0H1400.1V764.7H1403.3V765.3H1406.5V765.2H1409.6V765.5H1412.8V765.6H1416.0V765.6H1419.2V765.6H1422.3V766.3H1425.5V766.7H1428.7V767.7H1431.8V767.8H1435.0V767.7H1438.2V768.2H1441.3V768.5H1444.5V768.4H1447.7V767.8H1450.8V768.5H1454.0V769.6H1457.2V769.3H1460.3V769.8H1463.5V768.9H1466.7V769.9H1469.8V770.4H1473.0V770.7H1476.2V770.8H1479.3V771.6H1482.5V771.8H1485.7V772.4H1488.8V772.6H1492.0V772.4H1495.2V771.8H1498.4V772.3H1501.5V773.6H1504.7V773.9H1507.9V774.1H1511.0V773.5H1514.2V771.0H1517.4V771.9H1520.5V774.6H1523.7V775.2H1526.9V776.2H1530.0V775.1H1533.2V775.6H1536.4V776.1H1539.5V776.5H1542.7V777.0H1545.9V776.9H1549.0V776.9H1552.2V777.9H1555.4V778.5H1558.5V778.2H1561.7V778.4H1564.9V779.5H1568.0V779.4H1571.2V779.0H1574.4V778.8H1577.6V779.5H1580.7V779.9H1583.9V779.2H1587.1V779.9H1590.2V780.8H1593.4V780.9H1596.6V780.3H1599.7V780.9H1602.9V782.0H1606.1V782.5H1609.2V782.1H1612.4V782.3H1615.6V782.3H1618.7V782.2H1621.9V782.5H1625.1V780.5H1628.2V783.3H1631.4V784.0H1634.6V784.3H1637.7V783.6H1640.9V784.4H1644.1V784.5H1647.2V785.1H1650.4V786.0H1653.6V784.9H1656.8V785.7H1659.9V785.5H1663.1V786.8H1666.3V786.9H1669.4V787.1H1672.6V786.8H1675.8V786.8H1678.9V788.1H1682.1V784.9H1685.3V788.8H1688.4V789.4H1691.6V789.1H1694.8V789.4H1697.9V789.5H1701.1V789.5H1704.3V789.3H1707.4V790.0H1710.6V790.3H1713.8V790.4H1716.9V790.1H1720.1V790.8H1723.3V791.6H1726.4V792.1H1729.6V791.6H1732.8V791.9H1736.0V792.0H1739.1V793.6H1742.3V793.8H1745.5V794.0H1748.6V793.7H1751.8V793.8H1755.0V794.3H1758.1V794.3H1761.3V793.9H1764.5V794.5H1767.6V794.4H1770.8V795.1H1774.0V795.5H1777.1V795.8H1780.3V795.6H1783.5V796.1H1786.6V796.3H1789.8V797.1H1793.0V797.6H1796.1V798.3H1799.3V797.8H1802.5V797.8H1805.6V798.3H1808.8V798.9H1812.0V798.6H1815.2V798.1H1818.3V799.4H1819.5V810.0V810.0H1818.3V809.6H1815.2V809.8H1812.0V809.5H1808.8V808.9H1805.6V808.7H1802.5V808.7H1799.3V808.7H1796.1V808.7H1793.0V808.5H1789.8V807.4H1786.6V806.8H1783.5V807.0H1780.3V806.4H1777.1V805.9H1774.0V806.8H1770.8V805.9H1767.6V805.4H1764.5V805.5H1761.3V805.0H1758.1V805.5H1755.0V804.4H1751.8V804.1H1748.6V805.3H1745.5V804.5H1742.3V804.4H1739.1V804.0H1736.0V802.8H1732.8V802.7H1729.6V802.9H1726.4V801.9H1723.3V801.4H1720.1V801.7H1716.9V800.9H1713.8V800.8H1710.6V801.1H1707.4V800.6H1704.3V800.1H1701.1V802.0H1697.9V800.1H1694.8V799.9H1691.6V799.9H1688.4V799.4H1685.3V798.7H1682.1V798.4H1678.9V797.6H1675.8V797.6H1672.6V798.0H1669.4V798.2H1666.3V798.3H1663.1V797.5H1659.9V796.7H1656.8V796.7H1653.6V797.6H1650.4V795.6H1647.2V795.2H1644.1V795.3H1640.9V794.8H1637.7V795.2H1634.6V794.8H1631.4V794.0H1628.2V794.2H1625.1V793.8H1621.9V793.5H1618.7V794.5H1615.6V792.6H1612.4V792.6H1609.2V793.7H1606.1V792.3H1602.9V791.7H1599.7V792.0H1596.6V792.2H1593.4V791.2H1590.2V791.1H1587.1V790.4H1583.9V791.1H1580.7V790.0H1577.6V789.6H1574.4V790.1H1571.2V789.7H1568.0V790.6H1564.9V788.7H1561.7V788.9H1558.5V789.2H1555.4V789.0H1552.2V788.5H1549.0V787.5H1545.9V787.6H1542.7V789.0H1539.5V786.7H1536.4V786.9H1533.2V786.7H1530.0V787.1H1526.9V786.0H1523.7V785.3H1520.5V786.6H1517.4V785.4H1514.2V784.3H1511.0V784.5H1507.9V784.4H1504.7V784.7H1501.5V783.8H1498.4V783.1H1495.2V783.0H1492.0V783.6H1488.8V784.0H1485.7V783.2H1482.5V782.0H1479.3V781.9H1476.2V782.1H1473.0V781.9H1469.8V780.6H1466.7V780.1H1463.5V780.3H1460.3V780.1H1457.2V780.2H1454.0V779.7H1450.8V779.3H1447.7V778.7H1444.5V779.3H1441.3V778.7H1438.2V778.6H1435.0V778.2H1431.8V778.3H1428.7V778.1H1425.5V777.4H1422.3V777.0H1419.2V776.7H1416.0V776.0H1412.8V776.0H1409.6V776.1H1406.5V775.8H1403.3V776.1H1400.1V775.0H1397.0V775.4H1393.8V775.0H1390.6V775.5H1387.5V775.2H1384.3V774.0H1381.1V774.1H1378.0V773.1H1374.8V773.2H1371.6V773.4H1368.5V773.3H1365.3V773.0H1362.1V772.5H1359.0V772.0H1355.8V771.9H1352.6V772.7H1349.5V771.8H1346.3V771.6H1343.1V770.6H1340.0V770.3H1336.8V770.7H1333.6V770.5H1330.4V769.8H1327.3V769.4H1324.1V768.4H1320.9V768.4H1317.8V769.0H1314.6V768.9H1311.4V768.8H1308.3V768.4H1305.1V767.6H1301.9V766.8H1298.8V767.3H1295.6V766.6H1292.4V766.6H1289.3V766.6H1286.1V766.0H1282.9V765.6H1279.8V765.5H1276.6V766.0H1273.4V765.7H1270.3V766.2H1267.1V764.5H1263.9V764.9H1260.8V764.8H1257.6V764.2H1254.4V763.8H1251.2V763.0H1248.1V763.0H1244.9V763.7H1241.7V763.2H1238.6V763.0H1235.4V761.9H1232.2V762.2H1229.1V761.0H1225.9V760.8H1222.7V761.4H1219.6V760.5H1216.4V760.5H1213.2V760.4H1210.1V759.7H1206.9V760.0H1203.7V759.4H1200.6V759.3H1197.4V758.8H1194.2V759.5H1191.1V759.2H1187.9V758.9H1184.7V757.5H1181.6V758.3H1178.4V757.5H1175.2V757.2H1172.0V757.6H1168.9V757.5H1165.7V755.9H1162.5V756.5H1159.4V755.5H1156.2V755.3H1153.0V755.5H1149.9V755.3H1146.7V755.0H1143.5V754.7H1140.4V753.7H1137.2V753.9H1134.0V754.0H1130.9V753.8H1127.7V753.3H1124.5V753.3H1121.4V753.3H1118.2V753.0H1115.0V752.8H1111.9V752.3H1108.7V751.6H1105.5V750.8H1102.4V751.4H1099.2V750.8H1096.0V750.6H1092.8V751.6H1089.7V750.5H1086.5V751.2H1083.3V749.8H1080.2V750.1H1077.0V749.3H1073.8V748.9H1070.7V748.3H1067.5V748.6H1064.3V748.5H1061.2V748.0H1058.0V747.7H1054.8V747.1H1051.7V747.2H1048.5V746.9H1045.3V746.4H1042.2V746.3H1039.0V746.2H1035.8V745.2H1032.7V744.8H1029.5V744.1H1026.3V745.1H1023.2V744.5H1020.0V744.6H1016.8V744.4H1013.6V744.2H1010.5V744.2H1007.3V743.5H1004.1V743.2H1001.0V743.4H997.8V742.7H994.6V742.8H991.5V742.0H988.3V742.4H985.1V741.6H982.0V741.5H978.8V740.5H975.6V740.2H972.5V740.8H969.3V740.1H966.1V740.0H963.0V739.8H959.8V739.5H956.6V739.1H953.5V738.8H950.3V739.0H947.1V738.2H944.0V738.6H940.8V738.7H937.6V737.3H934.4V737.2H931.3V737.1H928.1V736.5H924.9V736.1H921.8V737.0H918.6V736.0H915.4V735.9H912.3V736.0H909.1V736.2H905.9V735.8H902.8V735.1H899.6V735.1H896.4V734.0H893.3V733.9H890.1V734.2H886.9V734.8H883.8V733.6H880.6V733.7H877.4V732.7H874.3V731.8H871.1V732.3H867.9V731.9H864.8V731.8H861.6V731.9H858.4V731.3H855.2V730.4H852.1V730.6H848.9V729.8H845.7V729.9H842.6V730.7H839.4V730.0H836.2V729.8H833.1V728.4H829.9V728.2H826.7V728.2H823.6V727.9H820.4V728.0H817.2V727.8H814.1V726.5H810.9V726.7H807.7V725.9H804.6V726.0H801.4V725.5H798.2V725.7H795.1V725.8H791.9V725.1H788.7V724.7H785.6V725.3H782.4V724.2H779.2V723.4H776.0V722.8H772.9V722.8H769.7V722.8H766.5V722.5H763.4V722.3H760.2V721.2H757.0V721.4H753.9V721.1H750.7V720.2H747.5V720.0H744.4V719.5H741.2V719.8H738.0V719.0H734.9V718.5H731.7V718.5H728.5V717.8H725.4V716.9H722.2V716.9H719.0V716.8H715.9V715.1H712.7V714.6H709.5V716.2H706.4V714.8H703.2V713.8H700.0V712.6H696.8V712.0H693.7V711.8H690.5V711.1H687.3V710.0H684.2V710.0H681.0V709.4H677.8V708.7H674.7V708.1H671.5V706.7H668.3V707.0H665.2V706.0H662.0Z"/>
  </g>

  <!-- arrow heads -->
  <polygon points="549.5,189 585.5,189 567.6,232"/>
  <polygon points="352.5,289.5 319,281.3 319,326.5 328.8,328"/>
  <polygon points="483,362 518,362 500.6,320"/>
  <polygon points="627.5,773 662.5,773 645,731"/>

  <!-- frame -->
  <path fill-rule="evenodd" d="M309.8,74.1H1831.6V1605.8H309.8Z M320.8,84.9V1595H1818.2V84.9Z"/>

  <rect x="320.3" y="332" width="2.6" height="1264" fill="#000018" opacity="0.62"/>

  <!-- ticks -->
  <g id="ticks">
<rect x="351.5" y="1582" width="12" height="18.0"/>
<rect x="393.4" y="1582" width="12" height="18.0"/>
<rect x="435.4" y="1582" width="12" height="18.0"/>
<rect x="477.3" y="1582" width="12" height="18.0"/>
<rect x="519.2" y="1568.5" width="12" height="31.5"/>
<rect x="561.1" y="1582" width="12" height="18.0"/>
<rect x="603.1" y="1582" width="12" height="18.0"/>
<rect x="645.0" y="1582" width="12" height="18.0"/>
<rect x="686.9" y="1582" width="12" height="18.0"/>
<rect x="728.8" y="1568.5" width="12" height="31.5"/>
<rect x="770.7" y="1582" width="12" height="18.0"/>
<rect x="812.7" y="1582" width="12" height="18.0"/>
<rect x="854.6" y="1582" width="12" height="18.0"/>
<rect x="896.5" y="1582" width="12" height="18.0"/>
<rect x="938.4" y="1568.5" width="12" height="31.5"/>
<rect x="980.4" y="1582" width="12" height="18.0"/>
<rect x="1022.3" y="1582" width="12" height="18.0"/>
<rect x="1064.2" y="1582" width="12" height="18.0"/>
<rect x="1106.1" y="1582" width="12" height="18.0"/>
<rect x="1148.0" y="1568.5" width="12" height="31.5"/>
<rect x="1190.0" y="1582" width="12" height="18.0"/>
<rect x="1231.9" y="1582" width="12" height="18.0"/>
<rect x="1273.8" y="1582" width="12" height="18.0"/>
<rect x="1315.7" y="1582" width="12" height="18.0"/>
<rect x="1357.7" y="1568.5" width="12" height="31.5"/>
<rect x="1399.6" y="1582" width="12" height="18.0"/>
<rect x="1441.5" y="1582" width="12" height="18.0"/>
<rect x="1483.4" y="1582" width="12" height="18.0"/>
<rect x="1525.3" y="1582" width="12" height="18.0"/>
<rect x="1567.3" y="1568.5" width="12" height="31.5"/>
<rect x="1609.2" y="1582" width="12" height="18.0"/>
<rect x="1651.1" y="1582" width="12" height="18.0"/>
<rect x="1693.0" y="1582" width="12" height="18.0"/>
<rect x="1735.0" y="1582" width="12" height="18.0"/>
<rect x="1776.9" y="1568.5" width="12" height="31.5"/>
<rect x="316" y="1518.4" width="19.0" height="12"/>
<rect x="316" y="1442.3" width="19.0" height="12"/>
<rect x="316" y="1366.3" width="19.0" height="12"/>
<rect x="316" y="1290.2" width="19.0" height="12"/>
<rect x="316" y="1214.2" width="31.5" height="12"/>
<rect x="316" y="1138.1" width="19.0" height="12"/>
<rect x="316" y="1062.1" width="19.0" height="12"/>
<rect x="316" y="986.0" width="19.0" height="12"/>
<rect x="316" y="910.0" width="19.0" height="12"/>
<rect x="316" y="834.0" width="31.5" height="12"/>
<rect x="316" y="757.9" width="19.0" height="12"/>
<rect x="316" y="681.9" width="19.0" height="12"/>
<rect x="316" y="605.8" width="19.0" height="12"/>
<rect x="316" y="529.8" width="19.0" height="12"/>
<rect x="316" y="453.7" width="31.5" height="12"/>
<rect x="316" y="377.7" width="19.0" height="12"/>
<rect x="316" y="301.6" width="19.0" height="12"/>
<rect x="316" y="225.6" width="19.0" height="12"/>
<rect x="316" y="149.5" width="19.0" height="12"/>
  </g>

  <!-- tick labels -->
  <g id="xlabels"><text class="tick" transform="translate(316.4,1692.6) scale(0.955,1)" text-anchor="middle">0</text><text class="tick" transform="translate(526.0,1692.6) scale(0.955,1)" text-anchor="middle">500</text><text class="tick" transform="translate(735.6,1692.6) scale(0.955,1)" text-anchor="middle">1000</text><text class="tick" transform="translate(945.2,1692.6) scale(0.955,1)" text-anchor="middle">1500</text><text class="tick" transform="translate(1154.8,1692.6) scale(0.955,1)" text-anchor="middle">2000</text><text class="tick" transform="translate(1364.5,1692.6) scale(0.955,1)" text-anchor="middle">2500</text><text class="tick" transform="translate(1574.1,1692.6) scale(0.955,1)" text-anchor="middle">3000</text><text class="tick" transform="translate(1783.7,1692.6) scale(0.955,1)" text-anchor="middle">3500</text></g>
  <g id="ylabels"><text class="tick" transform="translate(277.3,1618.9) scale(0.955,1)" text-anchor="end">0.0</text><text class="tick" transform="translate(277.3,1238.7) scale(0.955,1)" text-anchor="end">0.5</text><text class="tick" transform="translate(277.3,858.5) scale(0.955,1)" text-anchor="end">1.0</text><text class="tick" transform="translate(277.3,478.2) scale(0.955,1)" text-anchor="end">1.5</text><text class="tick" transform="translate(277.3,98.0) scale(0.955,1)" text-anchor="end">2.0</text></g>

  <!-- axis titles -->
  <text class="axis" transform="translate(1075.0,1850.5) scale(0.995,1)" text-anchor="middle">time (s)</text>
  <text class="axis" transform="translate(115.4,842.6) rotate(-90) scale(1.02,1)" text-anchor="middle">Abs</text>

  <!-- annotations -->
  <text class="ann" transform="translate(336.5,152.6) scale(0.95,1)" text-anchor="start" style="font-size:61.5px">Asc.</text>
  <text class="ann" transform="translate(587.8,147.0) scale(0.96,1)" text-anchor="start" style="font-size:61.0px">Cu(II)</text>
  <text class="ann" transform="translate(442.0,545.0) scale(0.965,1)" text-anchor="start" style="font-size:60.0px">A<tspan class="beta" style="font-size:64px">β</tspan><tspan style="font-size:41px" dx="1.2" dy="30.2">16</tspan></text>
  <text class="ann" transform="translate(516.8,978.5) scale(1.0,1)" text-anchor="start" style="font-size:58.5px">Peptides</text>
  </g>
</svg>
</body>
</html>
